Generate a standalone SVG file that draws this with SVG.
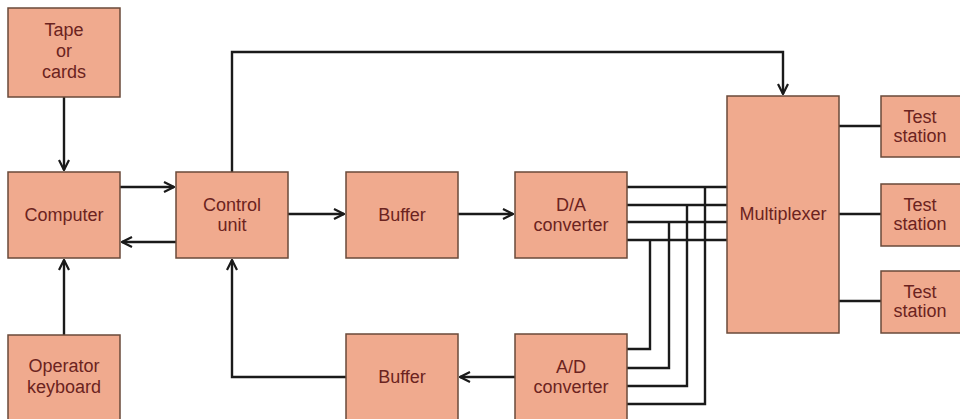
<svg xmlns="http://www.w3.org/2000/svg" width="960" height="419" viewBox="0 0 960 419">
<style>
.box{fill:#f0aa8e;stroke:#6a4a3a;stroke-width:1.5}
.t{font-family:"Liberation Sans",Arial,sans-serif;font-size:18px;fill:#6b2320;text-anchor:middle}
.c{fill:none;stroke:#1a1a1a;stroke-width:2.4}
</style>
<defs>
<marker id="a" viewBox="0 0 12 12" refX="11" refY="6" markerWidth="12" markerHeight="12" markerUnits="userSpaceOnUse" orient="auto">
<polyline points="1,1 11,6 1,11" fill="none" stroke="#1a1a1a" stroke-width="2.2"/>
</marker>
</defs>
<rect width="960" height="419" fill="#fff"/>
<g id="connectors">
<path class="c" d="M64,97 V170" marker-end="url(#a)"/>
<path class="c" d="M64,335 V260" marker-end="url(#a)"/>
<path class="c" d="M120,187 H174" marker-end="url(#a)"/>
<path class="c" d="M176,242 H122" marker-end="url(#a)"/>
<path class="c" d="M232,172 V52 H783 V94" marker-end="url(#a)"/>
<path class="c" d="M288,214 H344" marker-end="url(#a)"/>
<path class="c" d="M458,214 H513" marker-end="url(#a)"/>
<path class="c" d="M515,377 H460" marker-end="url(#a)"/>
<path class="c" d="M346,377 H232 V260" marker-end="url(#a)"/>
<path class="c" d="M627,187 H727 M627,205 H727 M627,222 H727 M627,240 H727"/>
<path class="c" d="M705,187 V404 H627 M687,205 V386 H627 M669,222 V368 H627 M650,240 V349 H627"/>
<path class="c" d="M839,126 H881 M839,214 H881 M839,301 H881"/>
</g>
<g id="tape"><rect class="box" x="8" y="8" width="112" height="89"/><text class="t" x="64" y="36">Tape</text><text class="t" x="64" y="57">or</text><text class="t" x="64" y="78">cards</text></g>
<g id="computer"><rect class="box" x="8" y="172" width="112" height="86"/><text class="t" x="64" y="221">Computer</text></g>
<g id="keyboard"><rect class="box" x="8" y="335" width="112" height="90"/><text class="t" x="64" y="372">Operator</text><text class="t" x="64" y="393">keyboard</text></g>
<g id="control"><rect class="box" x="176" y="172" width="112" height="86"/><text class="t" x="232" y="211">Control</text><text class="t" x="232" y="231">unit</text></g>
<g id="buffer1"><rect class="box" x="346" y="172" width="112" height="86"/><text class="t" x="402" y="221">Buffer</text></g>
<g id="da"><rect class="box" x="515" y="172" width="112" height="86"/><text class="t" x="571" y="211">D/A</text><text class="t" x="571" y="231">converter</text></g>
<g id="buffer2"><rect class="box" x="346" y="334" width="112" height="90"/><text class="t" x="402" y="383">Buffer</text></g>
<g id="ad"><rect class="box" x="515" y="334" width="112" height="90"/><text class="t" x="571" y="373">A/D</text><text class="t" x="571" y="393">converter</text></g>
<g id="mux"><rect class="box" x="727" y="96" width="112" height="237"/><text class="t" x="783" y="220">Multiplexer</text></g>
<g id="ts1"><rect class="box" x="881" y="96" width="85" height="61"/><text class="t" x="920" y="123">Test</text><text class="t" x="920" y="142">station</text></g>
<g id="ts2"><rect class="box" x="881" y="184" width="85" height="62"/><text class="t" x="920" y="211">Test</text><text class="t" x="920" y="230">station</text></g>
<g id="ts3"><rect class="box" x="881" y="271" width="85" height="62"/><text class="t" x="920" y="298">Test</text><text class="t" x="920" y="317">station</text></g>
</svg>
